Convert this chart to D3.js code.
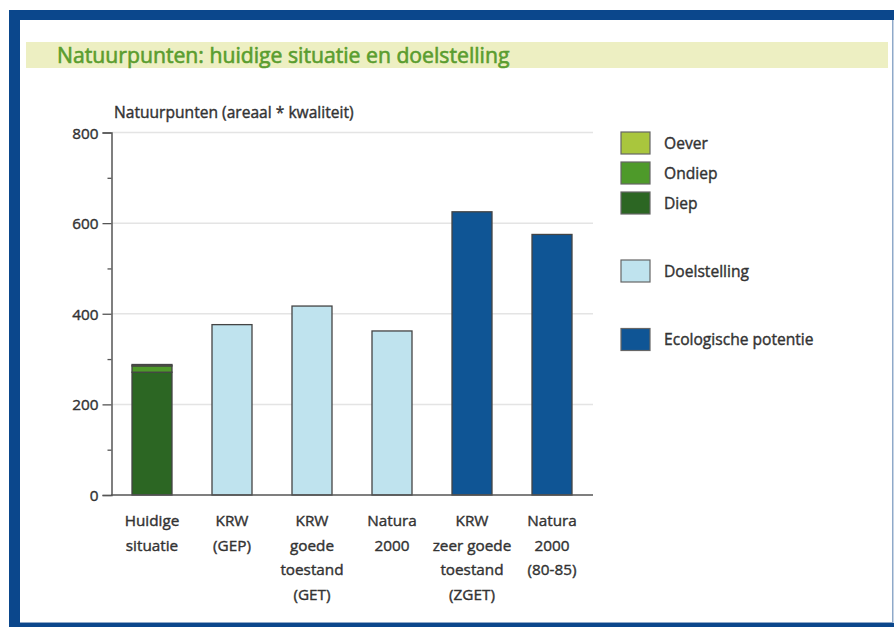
<!DOCTYPE html>
<html><head><meta charset="utf-8">
<script src="https://cdn.jsdelivr.net/npm/d3@7"></script>
<style>
body{margin:0;background:#fff}
svg{display:block}
text{font-family:"Open Sans",sans-serif}
</style>
</head><body>
<svg id="c" width="894" height="627"></svg>
<script>
// ---- data ----
const categories = ["Huidige situatie", "KRW (GEP)", "KRW goede toestand (GET)", "Natura 2000", "KRW zeer goede toestand (ZGET)", "Natura 2000 (80-85)"];
const categoryLines = [["Huidige","situatie"],["KRW","(GEP)"],["KRW","goede","toestand","(GET)"],["Natura","2000"],["KRW","zeer goede","toestand","(ZGET)"],["Natura","2000","(80-85)"]];
const diep = [271, 0, 0, 0, 0, 0];
const ondiep = [14, 0, 0, 0, 0, 0];
const oever = [3, 0, 0, 0, 0, 0];
const doelstelling = [0, 376, 417, 362, 0, 0];
const ecologischePotentie = [0, 0, 0, 0, 625, 575];
const seriesKeys = ["Diep", "Ondiep", "Oever", "Doelstelling", "Ecologische potentie"];
const legendOrder = ["Oever", "Ondiep", "Diep", "Doelstelling", "Ecologische potentie"];
const yTicks = [0, 200, 400, 600, 800];
const yMinorTicks = [100, 300, 500, 700];
const title = "Natuurpunten: huidige situatie en doelstelling";
const yTitle = "Natuurpunten (areaal * kwaliteit)";

const colors = {"Oever":"#a9c63d","Ondiep":"#4e9a2a","Diep":"#2c6623","Doelstelling":"#bfe3ee","Ecologische potentie":"#0f5595"};

const table = categories.map((c,i)=>({cat:c,"Diep":diep[i],"Ondiep":ondiep[i],"Oever":oever[i],"Doelstelling":doelstelling[i],"Ecologische potentie":ecologischePotentie[i]}));

const svg = d3.select("#c");
const txt = "#333";
function medium(sel, col){ return sel.attr("fill",col).attr("stroke",col).attr("stroke-width",0.4); }

// frame
const frameBlue = "#0b478c";
svg.append("rect").attr("x",9).attr("y",10).attr("width",885).attr("height",10).attr("fill",frameBlue);
svg.append("rect").attr("x",9).attr("y",10).attr("width",11).attr("height",617).attr("fill",frameBlue);
svg.append("rect").attr("x",9).attr("y",623).attr("width",885).attr("height",4).attr("fill",frameBlue);
svg.append("rect").attr("x",892).attr("y",20).attr("width",1.5).attr("height",603).attr("fill","#8fa9c9");
svg.append("rect").attr("x",20).attr("y",622).attr("width",872).attr("height",1).attr("fill","#8fa9c9");

// title band
svg.append("rect").attr("x",26).attr("y",42).attr("width",862).attr("height",26).attr("fill","#edefc2");
svg.append("text").attr("x",57).attr("y",62.5).attr("font-size",21.2).call(medium,"#5a9d2f").attr("stroke-width",0.6).text(title);

// scales
const x = d3.scaleBand().domain(categories).range([112,592]).paddingInner(0.5).paddingOuter(0.25);
const y = d3.scaleLinear().domain([0,800]).range([495,132.5]);

// gridlines
svg.append("g").selectAll("line").data(yTicks.filter(d=>d>0)).join("line")
  .attr("x1",112).attr("x2",593).attr("y1",d=>y(d)).attr("y2",d=>y(d))
  .attr("stroke","#e4e4e4").attr("stroke-width",1.5);

// y axis
const yAxis = svg.append("g").attr("transform","translate(111.5,0)")
  .call(d3.axisLeft(y).tickValues(yTicks).tickSize(9).tickPadding(4).tickFormat(d3.format("d")));
yAxis.select(".domain").attr("stroke","#555").attr("stroke-width",1.5);
yAxis.selectAll(".tick line").attr("stroke","#555").attr("stroke-width",1.3);
yAxis.selectAll(".tick text").attr("font-size",15.3).attr("font-family","'Open Sans',sans-serif").attr("dy","0.36em").call(medium,txt);
const yMinor = svg.append("g").attr("transform","translate(111.5,0)")
  .call(d3.axisLeft(y).tickValues(yMinorTicks).tickSize(4).tickFormat(""));
yMinor.select(".domain").remove();
yMinor.selectAll(".tick line").attr("stroke","#555").attr("stroke-width",1.3);

svg.append("text").attr("x",114).attr("y",118).attr("font-size",15.6).call(medium,txt).text(yTitle);

// bars
const stack = d3.stack().keys(seriesKeys)(table);
svg.append("g").selectAll("g").data(stack).join("g")
  .attr("fill",d=>colors[d.key])
  .selectAll("rect").data(d=>d.filter(p=>p[1]-p[0]>0)).join("rect")
  .attr("x",d=>x(d.data.cat)).attr("width",x.bandwidth())
  .attr("y",d=>y(d[1])).attr("height",d=>y(d[0])-y(d[1]))
  .attr("stroke","#444").attr("stroke-width",1.3);

// x axis line
svg.append("line").attr("x1",111).attr("x2",593).attr("y1",495).attr("y2",495).attr("stroke","#555").attr("stroke-width",1.5);

// x labels
const xl = svg.append("g").selectAll("text").data(categories).join("text")
  .attr("x",d=>x(d)+x.bandwidth()/2).attr("y",526).attr("text-anchor","middle")
  .attr("font-size",15.3).call(medium,txt);
xl.each(function(d,i){
  d3.select(this).selectAll("tspan").data(categoryLines[i]).join("tspan")
    .attr("x",x(d)+x.bandwidth()/2).attr("dy",(t,j)=>j===0?0:24.5).text(t=>t);
});

// legend
const legendY = {"Oever":132,"Ondiep":162,"Diep":192,"Doelstelling":260,"Ecologische potentie":328.5};
const lg = svg.append("g").selectAll("g").data(legendOrder).join("g")
  .attr("transform",d=>`translate(621,${legendY[d]})`);
lg.append("rect").attr("width",29).attr("height",22).attr("fill",d=>colors[d]).attr("stroke","#666").attr("stroke-width",1.2);
lg.append("text").attr("x",43).attr("y",11).attr("dy","0.36em").attr("font-size",15.6).call(medium,txt).text(d=>d);
</script>
</body></html>
